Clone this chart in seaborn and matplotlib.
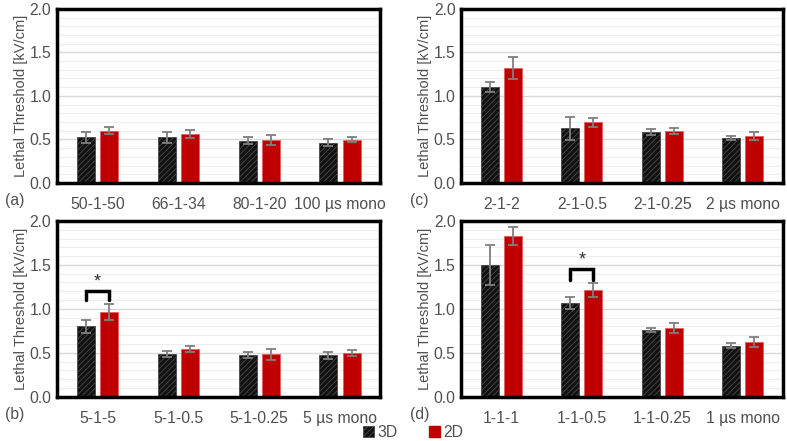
import numpy as np
import pandas as pd
import matplotlib
matplotlib.use("Agg")
import matplotlib.pyplot as plt
from matplotlib.patches import Patch
from matplotlib.ticker import MultipleLocator
import seaborn as sns

# ---- data ----
cats_a = ["50-1-50", "66-1-34", "80-1-20", "100 µs mono"]
mean3d_a = [0.525, 0.525, 0.483, 0.464]
err3d_a = [0.06, 0.06, 0.04, 0.04]
mean2d_a = [0.598, 0.563, 0.494, 0.498]
err2d_a = [0.04, 0.05, 0.06, 0.03]

cats_c = ["2-1-2", "2-1-0.5", "2-1-0.25", "2 µs mono"]
mean3d_c = [1.103, 0.628, 0.590, 0.517]
err3d_c = [0.055, 0.13, 0.035, 0.02]
mean2d_c = [1.320, 0.697, 0.594, 0.536]
err2d_c = [0.13, 0.05, 0.035, 0.045]

cats_b = ["5-1-5", "5-1-0.5", "5-1-0.25", "5 µs mono"]
mean3d_b = [0.800, 0.483, 0.475, 0.471]
err3d_b = [0.075, 0.033, 0.033, 0.04]
mean2d_b = [0.966, 0.544, 0.483, 0.497]
err2d_b = [0.09, 0.037, 0.06, 0.033]

cats_d = ["1-1-1", "1-1-0.5", "1-1-0.25", "1 µs mono"]
mean3d_d = [1.500, 1.070, 0.760, 0.580]
err3d_d = [0.23, 0.07, 0.02, 0.03]
mean2d_d = [1.830, 1.210, 0.780, 0.620]
err2d_d = [0.10, 0.08, 0.055, 0.06]

# significance markers: (category index, bracket y, leg y, star y)
sig_b = (0, 1.205, 1.105, 1.30)
sig_d = (1, 1.45, 1.325, 1.55)

groups = ["3D", "2D"]
colors = {"3D": "#111111", "2D": "#C00000"}

sns.set_theme(style="white")
plt.rcParams["font.family"] = ["Liberation Sans", "DejaVu Sans"]
plt.rcParams["hatch.linewidth"] = 0.6

TXT = "#505050"


def make_df(cats, m3, e3, m2, e2):
    rows = []
    for c, a, b in zip(cats, m3, e3):
        rows.append({"cat": c, "group": "3D", "mean": a, "err": b})
    for c, a, b in zip(cats, m2, e2):
        rows.append({"cat": c, "group": "2D", "mean": a, "err": b})
    return pd.DataFrame(rows)


def draw_panel(ax, df, letter, sig=None):
    sns.barplot(data=df, x="cat", y="mean", hue="group", hue_order=groups,
                palette=colors, saturation=1, width=0.57, gap=0.22,
                errorbar=None, legend=False, ax=ax)
    # bars are added hue by hue
    n = df["cat"].nunique()
    centers = {}
    for gi, g in enumerate(groups):
        sub = df[df["group"] == g].reset_index(drop=True)
        for i, p in enumerate(ax.patches[gi * n:(gi + 1) * n]):
            x = p.get_x() + p.get_width() / 2
            centers[(g, i)] = x
            if g == "3D":
                p.set_hatch("//////")
                p.set_edgecolor("#4a4a4a")
                p.set_linewidth(0.6)
            else:
                p.set_edgecolor("#e06060")
                p.set_linewidth(0.6)
            ax.errorbar(x, sub.loc[i, "mean"], yerr=sub.loc[i, "err"],
                        fmt="none", ecolor="#7f7f7f", elinewidth=1.3,
                        capsize=3.5, capthick=1.3, zorder=5)
    if sig is not None:
        i, ytop, yleg, ystar = sig
        x0, x1 = centers[("3D", i)], centers[("2D", i)]
        ax.plot([x0, x0, x1, x1], [yleg, ytop, ytop, yleg], color="black",
                lw=2.5, solid_joinstyle="miter", zorder=6)
        ax.text((x0 + x1) / 2, ystar, "*", ha="center", va="center",
                fontsize=13, color="#303030")

    ax.set_ylim(0, 2.0)
    ax.set_xlim(-0.5, n - 0.5)
    ax.yaxis.set_major_locator(MultipleLocator(0.5))
    ax.yaxis.set_minor_locator(MultipleLocator(0.1))
    ax.grid(axis="y", which="major", color="#d9d9d9", lw=1.0, zorder=0)
    ax.grid(axis="y", which="minor", color="#eeeeee", lw=0.8, zorder=0)
    ax.set_axisbelow(True)
    ax.tick_params(axis="both", which="both", length=0, labelsize=11.3,
                   colors=TXT, pad=4)
    ax.tick_params(axis="x", pad=10)
    ax.set_xlabel("")
    ax.set_ylabel("Lethal Threshold [kV/cm]", fontsize=10.5, color=TXT,
                  labelpad=1)
    ax.yaxis.set_major_formatter(matplotlib.ticker.FormatStrFormatter("%.1f"))
    for s in ax.spines.values():
        s.set_visible(True)
        s.set_color("black")
        s.set_linewidth(2.5)
    ax.text(-0.16, -0.10, letter, transform=ax.transAxes, fontsize=11.3,
            color=TXT, ha="left", va="center")


fig = plt.figure(figsize=(7.87, 4.41), dpi=100)
ax_a = fig.add_axes([0.0724, 0.585, 0.411, 0.395])
ax_c = fig.add_axes([0.586, 0.585, 0.409, 0.395])
ax_b = fig.add_axes([0.0724, 0.1005, 0.411, 0.3985])
ax_d = fig.add_axes([0.586, 0.1005, 0.409, 0.3985])

draw_panel(ax_a, make_df(cats_a, mean3d_a, err3d_a, mean2d_a, err2d_a), "(a)")
draw_panel(ax_c, make_df(cats_c, mean3d_c, err3d_c, mean2d_c, err2d_c), "(c)")
draw_panel(ax_b, make_df(cats_b, mean3d_b, err3d_b, mean2d_b, err2d_b), "(b)", sig_b)
draw_panel(ax_d, make_df(cats_d, mean3d_d, err3d_d, mean2d_d, err2d_d), "(d)", sig_d)

handles = [Patch(facecolor=colors["3D"], edgecolor="#4a4a4a", hatch="//////", lw=0.6),
           Patch(facecolor=colors["2D"], edgecolor=colors["2D"])]
fig.legend(handles, groups, loc="center", bbox_to_anchor=(0.525, 0.02),
           ncol=2, frameon=False, fontsize=11.3, handlelength=0.7,
           handleheight=0.7, handletextpad=0.2, columnspacing=2.0,
           labelcolor=TXT)

fig.savefig("out.png", dpi=100)
